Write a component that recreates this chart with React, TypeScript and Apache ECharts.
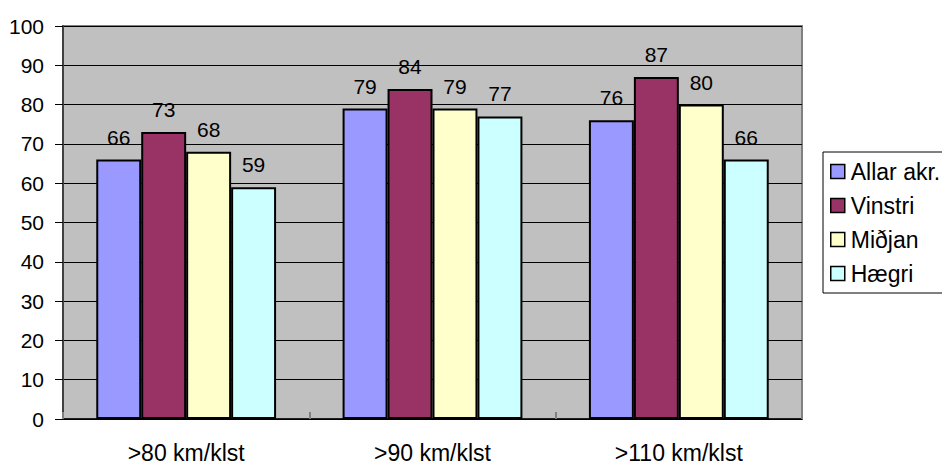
import React, { useEffect, useRef } from "react";
import * as echarts from "echarts";

const categories = [">80 km/klst", ">90 km/klst", ">110 km/klst"];
const seriesNames = ["Allar akr.", "Vinstri", "Miðjan", "Hægri"];
const allarValues = [66, 79, 76];
const vinstriValues = [73, 84, 87];
const midjanValues = [68, 79, 80];
const haegriValues = [59, 77, 66];
const seriesColors = ["#9999FF", "#993366", "#FFFFCC", "#CCFFFF"];

const FONT = "'Liberation Sans', Arial, sans-serif";

export default function App() {
  const ref = useRef<HTMLDivElement>(null);

  useEffect(() => {
    if (!ref.current) return;
    const chart = echarts.init(ref.current, null, { renderer: "svg" });
    const values = [allarValues, vinstriValues, midjanValues, haegriValues];

    chart.setOption({
      animation: false,
      backgroundColor: "#FFFFFF",
      textStyle: { fontFamily: FONT },
      grid: {
        left: 63,
        right: 140,
        top: 26,
        bottom: 43,
        show: true,
        backgroundColor: "#C0C0C0",
        borderColor: "#808080",
        borderWidth: 2,
      },
      legend: {
        orient: "vertical",
        left: 823,
        top: 152,
        data: seriesNames,
        icon: "rect",
        itemWidth: 14,
        itemHeight: 14,
        itemGap: 11,
        padding: [8, 12, 8, 7],
        borderColor: "#000000",
        borderWidth: 1,
        backgroundColor: "#FFFFFF",
        itemStyle: { borderColor: "#000000", borderWidth: 1.5 },
        textStyle: { fontFamily: FONT, fontSize: 23, color: "#000000", padding: [0, 0, 0, 1] },
      },
      xAxis: {
        type: "category",
        data: categories,
        axisLine: { lineStyle: { color: "#000000", width: 1.5 } },
        axisTick: { show: true, inside: true, length: 7, lineStyle: { color: "#808080", width: 2 } },
        axisLabel: { fontFamily: FONT, fontSize: 23, color: "#000000", margin: 22 },
      },
      yAxis: {
        type: "value",
        min: 0,
        max: 100,
        interval: 10,
        axisLine: { show: true, lineStyle: { color: "#404040", width: 2 } },
        axisTick: { show: true, length: 8, lineStyle: { color: "#000000", width: 1 } },
        axisLabel: { fontFamily: FONT, fontSize: 21, color: "#000000", margin: 19 },
        splitLine: { lineStyle: { color: "#000000", width: 1 } },
      },
      series: seriesNames.map((name, i) => ({
        name,
        type: "bar",
        data: values[i],
        barGap: "0%",
        barCategoryGap: "27%",
        itemStyle: { color: seriesColors[i], borderColor: "#000000", borderWidth: 2 },
        label: {
          show: true,
          position: "top",
          distance: 12,
          fontFamily: FONT,
          fontSize: 21,
          color: "#000000",
        },
      })),
    });

    return () => chart.dispose();
  }, []);

  return (
    <div
      ref={ref}
      style={{ position: "fixed", left: 0, top: 0, width: 942, height: 464, background: "#FFFFFF" }}
    />
  );
}
